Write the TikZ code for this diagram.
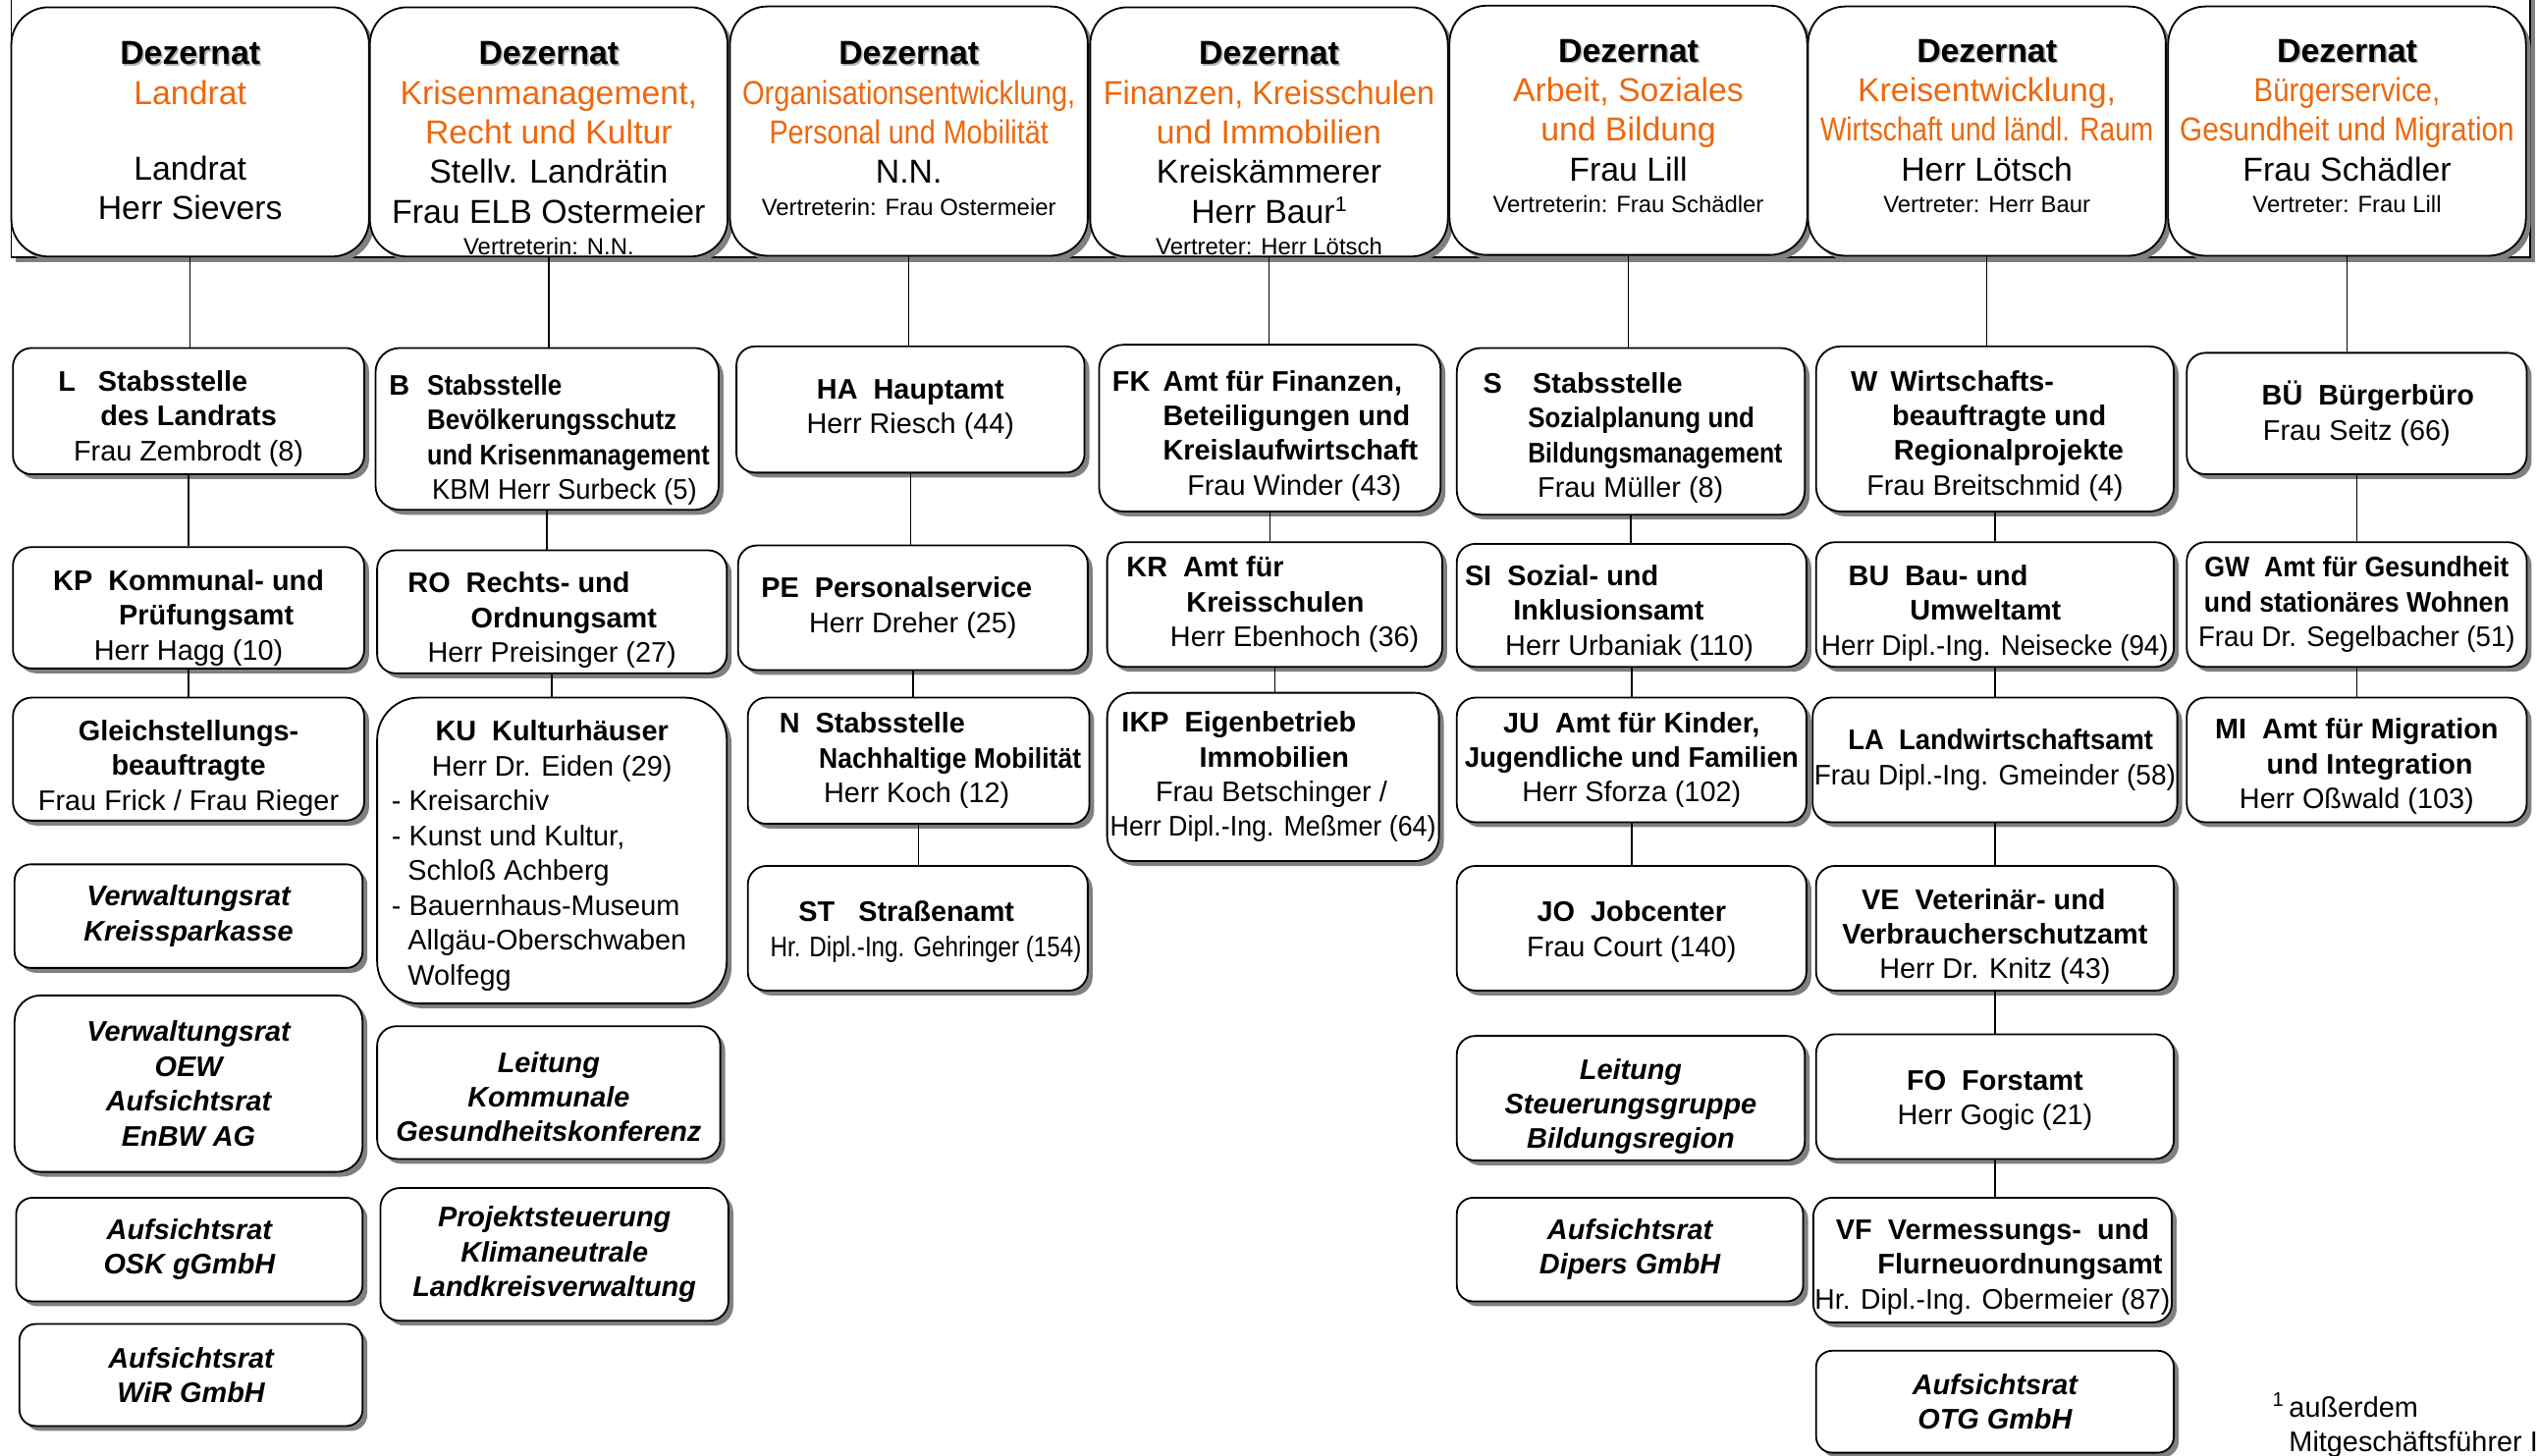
\documentclass[tikz,border=0pt]{standalone}
\usepackage{fontspec}
\setmainfont{Liberation Sans}
\usepackage{graphicx}
\usepackage{xcolor}
\usepackage{tikz}
\usetikzlibrary{shadows}

\definecolor{dezorange}{RGB}{236,104,14}
\newcommand{\narrow}[2][0.88]{\scalebox{#1}[1]{#2}}
\newcommand{\fromx}[2]{\makebox[0pt][l]{\hspace*{#1pt}#2}}
\newcommand{\shiftx}[2]{\makebox[0pt]{\hspace*{#1pt}\hspace*{#1pt}#2}}
\newcommand{\dn}[1]{\rule{0pt}{\dimexpr 13pt+#1pt*2\relax}}
\newcommand{\vertr}[1]{{\fontsize{14.5}{16}\selectfont #1}}
\newcommand{\dezword}{\makebox[0pt][l]{\hspace*{1pt}\raisebox{-1pt}{\textcolor{black!30}{Dezernat}}}Dezernat}

\begin{document}
\begin{tikzpicture}[x=1pt, y=-1pt,
  every node/.style={font=\fontsize{17.5}{21.5}\selectfont},
  unitbox/.style={draw, line width=1.1pt, fill=white, rounded corners=11.5pt, align=center, inner sep=1pt,
    drop shadow={shadow xshift=3pt, shadow yshift=-3pt, fill=black!50, opacity=1}},
  boardbox/.style={unitbox, font=\fontsize{17.5}{21.5}\selectfont\bfseries\itshape},
  dezbox/.style={unitbox, rounded corners=23pt, minimum width=221, minimum height=154},
  deztext/.style={anchor=north, align=center, inner sep=0pt, font=\fontsize{20.5}{24.5}\selectfont},
  orgline/.style={line width=0.9pt, black}]
\useasboundingbox (0,0) rectangle (1568,899);

\draw[line width=1.1pt, fill=white, drop shadow={shadow xshift=3pt, shadow yshift=-3pt, fill=black!50, opacity=1}]
  (7,-30) rectangle (1563,159);

\node[dezbox] (dz1) at (117.5,81.5) {};
\node[dezbox] (dz2) at (339,81.5) {};
\node[dezbox] (dz3) at (561.5,81) {};
\node[dezbox] (dz4) at (784,81.5) {};
\node[dezbox] (dz5) at (1006,80.5) {};
\node[dezbox] (dz6) at (1227.5,81) {};
\node[dezbox] (dz7) at (1450,81) {};

\node[deztext] (dz1t) at (117.5,25.5) {\textbf{\dezword}\\ \textcolor{dezorange}{Landrat}\\[22.5pt] Landrat\\ Herr Sievers};
\node[deztext] (dz2t) at (339,25.5) {\textbf{\dezword}\\ \textcolor{dezorange}{Krisenmanagement,}\\ \textcolor{dezorange}{Recht und Kultur}\\ Stellv. Landrätin\\ Frau ELB Ostermeier\\[-4.8pt] \vertr{Vertreterin: N.N.}};
\node[deztext] (dz3t) at (561.5,25.5) {\textbf{\dezword}\\ \textcolor{dezorange}{\narrow[0.86]{Organisationsentwicklung,}}\\ \textcolor{dezorange}{\narrow[0.85]{Personal und Mobilität}}\\ N.N.\\[-4.8pt] \vertr{Vertreterin: Frau Ostermeier}};
\node[deztext] (dz4t) at (784,25.5) {\textbf{\dezword}\\ \textcolor{dezorange}{\narrow[0.96]{Finanzen, Kreisschulen}}\\ \textcolor{dezorange}{und Immobilien}\\ Kreiskämmerer\\ Herr Baur\raisebox{7pt}{\fontsize{13}{13}\selectfont 1}\\[-4.8pt] \vertr{Vertreter: Herr Lötsch}};
\node[deztext] (dz5t) at (1006,24) {\textbf{\dezword}\\ \textcolor{dezorange}{Arbeit, Soziales}\\ \textcolor{dezorange}{und Bildung}\\ Frau Lill\\[-4.8pt] \vertr{Vertreterin: Frau Schädler}};
\node[deztext] (dz6t) at (1227.5,24) {\textbf{\dezword}\\ \textcolor{dezorange}{Kreisentwicklung,}\\ \textcolor{dezorange}{\narrow[0.83]{Wirtschaft und ländl. Raum}}\\ Herr Lötsch\\[-4.8pt] \vertr{Vertreter: Herr Baur}};
\node[deztext] (dz7t) at (1450,24) {\textbf{\dezword}\\ \textcolor{dezorange}{\narrow[0.87]{Bürgerservice,}}\\ \textcolor{dezorange}{\narrow[0.88]{Gesundheit und Migration}}\\ Frau Schädler\\[-4.8pt] \vertr{Vertreter: Frau Lill}};

\node[unitbox, minimum width=217, minimum height=78] (L) at (116.5,254) {\dn{4.5}\shiftx{-22}{\textbf{L\hspace{14pt}Stabsstelle}}\\ \textbf{des Landrats}\\ Frau Zembrodt (8)};
\node[unitbox, minimum width=217, minimum height=75] (KP) at (116.5,375.5) {\dn{6}\textbf{KP\ \ Kommunal- und}\\ \shiftx{11}{\textbf{Prüfungsamt}}\\ Herr Hagg (10)};
\node[unitbox, minimum width=217, minimum height=76] (GB) at (116.5,469) {\dn{5.5}\textbf{Gleichstellungs-}\\ \textbf{beauftragte}\\ Frau Frick / Frau Rieger};
\node[boardbox, minimum width=215, minimum height=64, rounded corners=10pt] (vrKSK) at (116.5,566) {Verwaltungsrat\\ Kreissparkasse};
\node[boardbox, minimum width=215, minimum height=109, rounded corners=16pt] (vrOEW) at (116.5,669.5) {Verwaltungsrat\\ OEW\\ Aufsichtsrat\\ EnBW AG};
\node[boardbox, minimum width=214, minimum height=64, rounded corners=10pt] (arOSK) at (117,772) {Aufsichtsrat\\ OSK gGmbH};
\node[boardbox, minimum width=212, minimum height=63, rounded corners=10pt] (arWIR) at (118,849.5) {Aufsichtsrat\\ WiR GmbH};

\node[unitbox, minimum width=212, minimum height=100, rounded corners=15pt] (B) at (338,265) {\dn{6.5}\fromx{-74}{\llap{\textbf{B}\hspace{11pt}}\textbf{\narrow[0.9]{Stabsstelle}}}\\ \fromx{-74}{\textbf{\narrow[0.9]{Bevölkerungsschutz}}}\\ \fromx{-74}{\textbf{\narrow[0.875]{und Krisenmanagement}}}\\ \fromx{-71}{\narrow[0.95]{KBM Herr Surbeck (5)}}};
\node[unitbox, minimum width=216, minimum height=76] (RO) at (341,378) {\dn{5}\fromx{-89}{\textbf{RO\ \ Rechts- und}}\\ \fromx{-50}{\textbf{Ordnungsamt}}\\ Herr Preisinger (27)};
\node[unitbox, minimum width=216, minimum height=189, rounded corners=26pt] (KU) at (341,525.5) {\dn{3}\textbf{KU\ \ Kulturhäuser}\\ Herr Dr. Eiden (29)\\ \fromx{-99}{- Kreisarchiv}\\ \fromx{-99}{- Kunst und Kultur,}\\ \fromx{-89}{Schloß Achberg}\\ \fromx{-99}{- Bauernhaus-Museum}\\ \fromx{-89}{Allgäu-Oberschwaben}\\ \fromx{-89}{Wolfegg}};
\node[boardbox, minimum width=212, minimum height=82, rounded corners=12pt] (lKGK) at (339,675) {\dn{2.5}Leitung\\ Kommunale\\ Gesundheitskonferenz};
\node[boardbox, minimum width=215, minimum height=82, rounded corners=12pt] (pKLV) at (342.5,775) {Projektsteuerung\\ Klimaneutrale\\ Landkreisverwaltung};

\node[unitbox, minimum width=215, minimum height=78] (HA) at (562.5,253) {\textbf{HA\ \ Hauptamt}\\ Herr Riesch (44)};
\node[unitbox, minimum width=216, minimum height=77] (PE) at (564,375.5) {\shiftx{-10}{\textbf{PE\ \ Personalservice}}\\ Herr Dreher (25)};
\node[unitbox, minimum width=211, minimum height=78] (N) at (567.5,470) {\fromx{-86}{\textbf{N\ \ Stabsstelle}}\\ \fromx{-61.5}{\textbf{\narrow[0.92]{Nachhaltige Mobilität}}}\\ \fromx{-58.5}{Herr Koch (12)}};
\node[unitbox, minimum width=210, minimum height=77] (ST) at (567,573.5) {\dn{2}\shiftx{-7}{\textbf{ST\ \ \ Straßenamt}}\\ \shiftx{5}{\narrow[0.84]{Hr. Dipl.-Ing. Gehringer (154)}}};

\node[unitbox, minimum width=211, minimum height=103, rounded corners=15pt] (FK) at (784.5,264.5) {\dn{4.5}\fromx{-66}{\llap{\textbf{FK}\hspace{8pt}}\textbf{Amt für Finanzen,}}\\ \fromx{-66}{\textbf{Beteiligungen und}}\\ \fromx{-66}{\textbf{Kreislaufwirtschaft}}\\ \fromx{-51}{Frau Winder (43)}};
\node[unitbox, minimum width=207, minimum height=77] (KR) at (787.5,373.5) {\fromx{-91.5}{\textbf{KR\ \ Amt für}}\\ \fromx{-54.5}{\textbf{Kreisschulen}}\\ \fromx{-64.5}{Herr Ebenhoch (36)}};
\node[unitbox, minimum width=205, minimum height=104, rounded corners=15pt] (IKP) at (786.5,480) {\fromx{-93.5}{\textbf{IKP\ \ Eigenbetrieb}}\\ \fromx{-45.5}{\textbf{Immobilien}}\\ \fromx{-72.5}{Frau Betschinger /}\\ \narrow[0.93]{Herr Dipl.-Ing. Meßmer (64)}};

\node[unitbox, minimum width=215, minimum height=103, rounded corners=15pt] (S) at (1007.5,266.5) {\dn{4}\fromx{-60.5}{\llap{\textbf{S}\hspace{19pt}}\textbf{Stabsstelle}}\\ \fromx{-63.5}{\textbf{\narrow[0.9]{Sozialplanung und}}}\\ \fromx{-63.5}{\textbf{\narrow[0.86]{Bildungsmanagement}}}\\ \fromx{-57.5}{Frau Müller (8)}};
\node[unitbox, minimum width=216, minimum height=76] (SI) at (1008,374) {\dn{4.5}\fromx{-103}{\textbf{SI\ \ Sozial- und}}\\ \fromx{-73}{\textbf{Inklusionsamt}}\\ \fromx{-78}{Herr Urbaniak (110)}};
\node[unitbox, minimum width=216, minimum height=77] (JU) at (1008,469.5) {\textbf{JU\ \ Amt für Kinder,}\\ \textbf{\narrow[0.96]{Jugendliche und Familien}}\\ Herr Sforza (102)};
\node[unitbox, minimum width=216, minimum height=77] (JO) at (1008,573.5) {\dn{2}\textbf{JO\ \ Jobcenter}\\ Frau Court (140)};
\node[boardbox, minimum width=215, minimum height=77] (lSBR) at (1007.5,678.5) {\dn{5}Leitung\\ Steuerungsgruppe\\ Bildungsregion};
\node[boardbox, minimum width=214, minimum height=64, rounded corners=10pt] (arDIP) at (1007,772) {Aufsichtsrat\\ Dipers GmbH};

\node[unitbox, minimum width=221, minimum height=102, rounded corners=15pt] (W) at (1232.5,265) {\dn{4}\fromx{-64.5}{\llap{\textbf{W}\hspace{8pt}}\textbf{Wirtschafts-}}\\ \fromx{-63.5}{\textbf{beauftragte und}}\\ \fromx{-62.5}{\textbf{Regionalprojekte}}\\ Frau Breitschmid (4)};
\node[unitbox, minimum width=221, minimum height=77] (BU) at (1232.5,373.5) {\dn{5}\fromx{-90.5}{\textbf{BU\ \ Bau- und}}\\ \fromx{-52.5}{\textbf{Umweltamt}}\\ \narrow[0.96]{Herr Dipl.-Ing. Neisecke (94)}};
\node[unitbox, minimum width=221, minimum height=77] (LA) at (1232.5,469.5) {\shiftx{3.5}{\textbf{\narrow[0.95]{LA\ \ Landwirtschaftsamt}}}\\ \narrow[0.97]{Frau Dipl.-Ing. Gmeinder (58)}};
\node[unitbox, minimum width=221, minimum height=77] (VE) at (1232.5,573.5) {\dn{5}\shiftx{-7}{\textbf{VE\ \ Veterinär- und}}\\ \textbf{Verbraucherschutzamt}\\ Herr Dr. Knitz (43)};
\node[unitbox, minimum width=221, minimum height=77] (FO) at (1232.5,677.5) {\dn{2}\textbf{FO\ \ Forstamt}\\ Herr Gogic (21)};
\node[unitbox, minimum width=218, minimum height=77] (VF) at (1231,778.5) {\dn{4}\textbf{VF\ \ Vermessungs-\ \ und}\\ \fromx{-71}{\textbf{Flurneuordnungsamt}}\\ \narrow[0.98]{Hr. Dipl.-Ing. Obermeier (87)}};
\node[boardbox, minimum width=221, minimum height=63, rounded corners=10pt] (arOTG) at (1232.5,866) {Aufsichtsrat\\ OTG GmbH};

\node[unitbox, minimum width=210, minimum height=75] (BUE) at (1456,255.5) {\shiftx{7}{\textbf{BÜ\ \ Bürgerbüro}}\\ Frau Seitz (66)};
\node[unitbox, minimum width=210, minimum height=77] (GW) at (1456,373.5) {\textbf{\narrow[0.925]{GW\ \ Amt für Gesundheit}}\\ \textbf{\narrow[0.925]{und stationäres Wohnen}}\\ \narrow[0.96]{Frau Dr. Segelbacher (51)}};
\node[unitbox, minimum width=210, minimum height=77] (MI) at (1456,469.5) {\dn{4}\textbf{MI\ \ Amt für Migration}\\ \shiftx{8}{\textbf{und Integration}}\\ Herr Oßwald (103)};

\node[anchor=north west, align=left, inner sep=0pt] (fn) at (1414,860.5) {\llap{\textsuperscript{1}\,}außerdem\\ Mitgeschäftsführer I};

\foreach \a/\b in {dz1/L, L/KP, KP/GB, dz2/B, B/RO, RO/KU, dz3/HA, HA/PE, PE/N, N/ST,
    dz4/FK, FK/KR, KR/IKP, dz5/S, S/SI, SI/JU, JU/JO,
    dz6/W, W/BU, BU/LA, LA/VE, VE/FO, FO/VF, dz7/BUE, BUE/GW, GW/MI}
  \draw[orgline] (\a.south) -- (\a.south |- \b.north);
\end{tikzpicture}
\end{document}
